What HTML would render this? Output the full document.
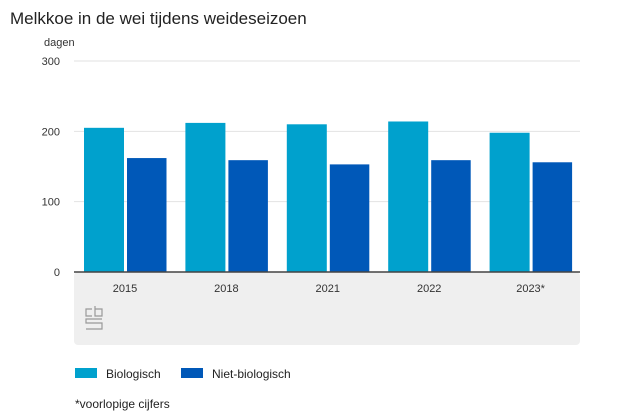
<!DOCTYPE html>
<html><head><meta charset="utf-8"><style>
body{margin:0;background:#fff;font-family:"Liberation Sans",sans-serif;}
</style></head><body>
<svg width="626" height="417" style="display:block">
<text x="10" y="24" font-size="17" fill="#222">Melkkoe in de wei tijdens weideseizoen</text>
<text x="44" y="46" font-size="11" fill="#333">dagen</text>
<rect x="74" y="272" width="506" height="73" rx="4" fill="#efefef"/>
<g id="grid"></g><g id="bars"></g><g id="xl"></g>
<line x1="74" x2="580" y1="272" y2="272" stroke="#444" stroke-width="1.5"/>
<g fill="none" stroke="#999" stroke-width="1.2">
<path d="M92 309h-6v7h6"/><path d="M95 306v10h7v-7h-7"/><path d="M102 319h-16v4h16v6h-16"/>
</g>
<rect x="75" y="368" width="22" height="10" fill="#00a1cd"/>
<text x="106" y="378" font-size="12" fill="#222">Biologisch</text>
<rect x="181" y="368" width="22" height="10" fill="#0058b8"/>
<text x="212" y="378" font-size="12" fill="#222">Niet-biologisch</text>
<text x="75" y="408" font-size="12" fill="#222">*voorlopige cijfers</text>
</svg>
<script>
const categories=["2015","2018","2021","2022","2023*"];
const biologisch=[205,212,210,214,198];
const nietBiologisch=[162,159,153,159,156];
const yTicks=[0,100,200,300];
const NS="http://www.w3.org/2000/svg";
const y=v=>272-v*211/300;
const gx=i=>74+i*101.4;
function mk(t,a,p){const e=document.createElementNS(NS,t);for(const k in a)e.setAttribute(k,a[k]);p.appendChild(e);return e;}
const grid=document.getElementById('grid'),bars=document.getElementById('bars'),xl=document.getElementById('xl');
yTicks.forEach(t=>{
 if(t>0){const l=mk('line',{x1:74,x2:580,y1:y(t),y2:y(t),stroke:'#e2e2e2','stroke-width':1},grid);
 
 }
 const tx=mk('text',{x:60,y:y(t)+4,'font-size':11,fill:'#333','text-anchor':'end'},grid);tx.textContent=t;
 
 
});
categories.forEach((c,i)=>{
 const b=mk('rect',{x:gx(i)+10,y:y(biologisch[i]),width:40,height:272-y(biologisch[i]),fill:'#00a1cd'},bars);
 
 
 const n=mk('rect',{x:gx(i)+53,y:y(nietBiologisch[i]),width:39.5,height:272-y(nietBiologisch[i]),fill:'#0058b8'},bars);
 
 
 const t=mk('text',{x:gx(i)+51,y:292,'font-size':11,fill:'#333','text-anchor':'middle'},xl);t.textContent=c;
 
 
});
</script>
</body></html>
